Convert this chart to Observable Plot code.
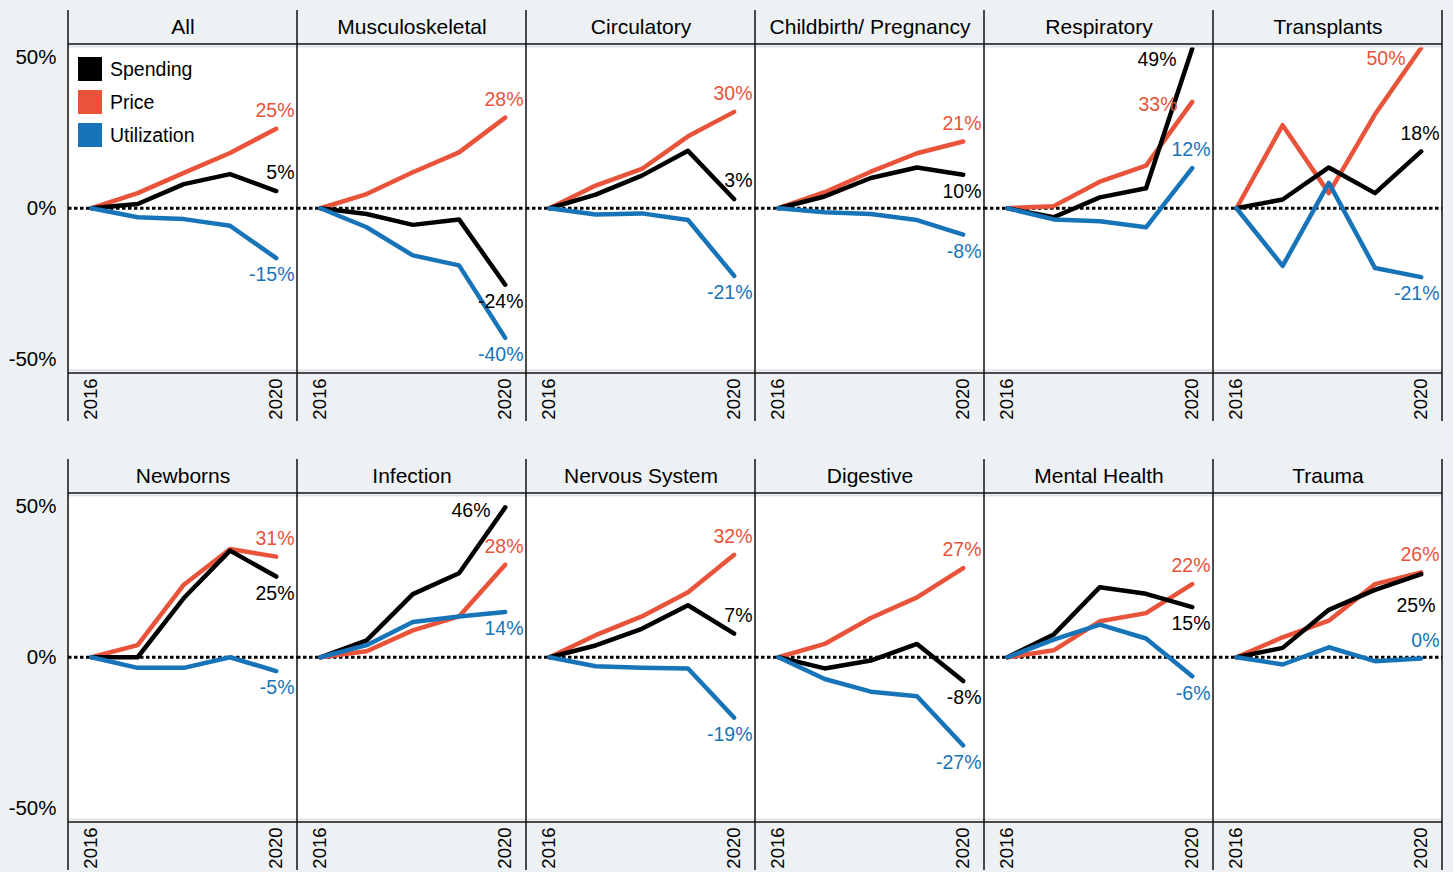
<!DOCTYPE html>
<html>
<head>
<meta charset="utf-8">
<script src="https://cdn.jsdelivr.net/npm/d3@7"></script>
<script src="https://cdn.jsdelivr.net/npm/@observablehq/plot@0.6"></script>
<style>
  body { margin: 0; background: #eef1f4; }
  #chart { position: relative; width: 1453px; height: 872px; background: #eef1f4;
           font-family: "Liberation Sans", Arial, sans-serif; }
  #chart svg { display: block; }
  .legend { position: absolute; left: 78px; top: 57px; font-size: 19.5px; color: #000; }
  .legend .item { display: flex; align-items: center; height: 24px; margin-bottom: 9px; }
  .legend .sw { width: 24px; height: 24px; margin-right: 8px; }
</style>
</head>
<body>
<div id="chart"></div>
<script>
// ---- data ----
const categories = ["All", "Musculoskeletal", "Circulatory", "Childbirth/ Pregnancy", "Respiratory", "Transplants",
                    "Newborns", "Infection", "Nervous System", "Digestive", "Mental Health", "Trauma"];
const years = [2016, 2017, 2018, 2019, 2020];
const seriesNames = ["Spending", "Price", "Utilization"];
const seriesColors = ["#000000", "#e8533a", "#1874b8"];

const spending = [
  [0, 1.4, 8.0, 11.3, 5.7],
  [0, -1.9, -5.5, -3.7, -25.3],
  [0, 4.5, 10.8, 19.0, 3.0],
  [0, 3.9, 10.0, 13.5, 11.1],
  [0, -3.0, 3.6, 6.6, 52.8],
  [0, 2.9, 13.5, 5.0, 18.8],
  [0, 0, 19.6, 35.3, 26.7],
  [0, 5.6, 20.9, 27.8, 49.6],
  [0, 3.9, 9.4, 17.2, 7.8],
  [0, -3.7, -1.1, 4.4, -7.9],
  [0, 7.5, 23.2, 21.0, 16.6],
  [0, 3.1, 15.7, 22.3, 27.5]
];
const price = [
  [0, 5.0, 11.7, 18.3, 26.3],
  [0, 4.7, 11.9, 18.5, 30.0],
  [0, 7.5, 13.0, 23.8, 31.9],
  [0, 5.3, 12.1, 18.2, 22.1],
  [0, 0.7, 8.8, 14.1, 35.2],
  [0, 27.5, 5.0, 31.1, 53.1],
  [0, 4.0, 24.0, 35.8, 33.3],
  [0, 2.0, 8.9, 13.5, 30.6],
  [0, 7.3, 13.5, 21.5, 33.9],
  [0, 4.4, 13.0, 19.8, 29.5],
  [0, 2.3, 11.9, 14.6, 24.2],
  [0, 6.6, 12.1, 24.2, 28.1]
];
const utilization = [
  [0, -3.0, -3.6, -5.8, -16.5],
  [0, -6.3, -15.6, -18.9, -42.9],
  [0, -2.1, -1.7, -3.9, -22.4],
  [0, -1.3, -1.9, -3.9, -8.7],
  [0, -3.7, -4.3, -6.3, 13.3],
  [0, -19.1, 8.4, -19.8, -22.8],
  [0, -3.5, -3.5, 0, -4.6],
  [0, 4.0, 11.7, 13.5, 15.0],
  [0, -3.0, -3.5, -3.7, -20.0],
  [0, -7.2, -11.4, -12.9, -29.2],
  [0, 5.8, 10.8, 6.2, -6.3],
  [0, -2.4, 3.3, -1.3, -0.4]
];
// end-of-line labels as printed
const spendingLabels = ["5%", "-24%", "3%", "10%", "49%", "18%", "25%", "46%", "7%", "-8%", "15%", "25%"];
const priceLabels = ["25%", "28%", "30%", "21%", "33%", "50%", "31%", "28%", "32%", "27%", "22%", "26%"];
const utilizationLabels = ["-15%", "-40%", "-21%", "-8%", "12%", "-21%", "-5%", "14%", "-19%", "-27%", "-6%", "0%"];
// where each end label sits relative to its line end
const spendingPlace = ["above", "below", "above", "below", "belowLeft", "above", "below", "left", "above", "below", "below", "farBelow"];
const pricePlace = ["above", "above", "above", "above", "left", "belowLeft", "above", "above", "above", "above", "above", "above"];
const utilizationPlace = ["below", "below", "below", "below", "above", "below", "below", "below", "below", "below", "below", "above"];
const yTicks = [-50, 0, 50];
const xTicks = [2016, 2020];

// ---- build tables ----
const seriesTable = [
  ["Price", price, priceLabels, pricePlace],
  ["Spending", spending, spendingLabels, spendingPlace],
  ["Utilization", utilization, utilizationLabels, utilizationPlace]
];
const cells = categories.map((name, i) => ({name, row: Math.floor(i / 6), col: i % 6}));
const points = [];
const ends = [];
cells.forEach((c, i) => {
  for (const [s, arr, labs, places] of seriesTable) {
    years.forEach((yr, j) => points.push({...c, series: s, year: yr, value: arr[i][j]}));
    ends.push({...c, series: s, value: arr[i][years.length - 1], text: labs[i], place: places[i]});
  }
});

const placeOffsets = {
  above: {dx: -3, dy: -18},
  below: {dx: -3, dy: 17},
  left: {dx: -36, dy: 3},
  belowLeft: {dx: -37, dy: 11},
  farBelow: {dx: -7, dy: 32}
};
const labelMarks = Object.entries(placeOffsets).map(([k, o]) =>
  Plot.text(ends.filter(d => d.place === k), {
    fx: "col", fy: "row", y: "value", text: "text", fill: "series",
    frameAnchor: "right", textAnchor: "end", dx: o.dx, dy: o.dy, fontSize: 19.5
  })
);

const plot = Plot.plot({
  width: 1453,
  height: 872,
  marginLeft: 67,
  marginRight: 10,
  marginTop: 44,
  marginBottom: 50,
  style: {background: "transparent", fontFamily: "'Liberation Sans', Arial, sans-serif", overflow: "visible", color: "#000"},
  fx: {domain: [0, 1, 2, 3, 4, 5], padding: 0, axis: null},
  fy: {domain: [0, 1], paddingInner: 0.268, paddingOuter: 0, axis: null},
  x: {domain: [2015.503, 2020.461]},
  y: {domain: [-54.7, 54.2]},
  color: {domain: seriesNames, range: seriesColors},
  marks: [
    Plot.frame({fill: "white"}),
    Plot.ruleY([0], {stroke: "black", strokeWidth: 3, strokeDasharray: "3.5,2.5"}),
    Plot.line(points, {
      fx: "col", fy: "row", x: "year", y: "value", z: "series", stroke: "series",
      strokeWidth: 4.5, strokeLinejoin: "round", strokeLinecap: "round"
    }),
    ...labelMarks,
    Plot.text(cells, {fx: "col", fy: "row", text: "name", frameAnchor: "top", lineAnchor: "middle",
                      dy: -17.5, fontSize: 21, fill: "black"}),
    Plot.axisX({ticks: xTicks, tickFormat: d => String(d), tickRotate: -90, tickSize: 0, tickPadding: 5,
                fontSize: 18.5, color: "black", label: null, facetAnchor: null}),
    Plot.axisY({ticks: yTicks, tickFormat: d => d + "%", tickSize: 0, tickPadding: 12,
                fontSize: 20.5, color: "black", label: null, facetAnchor: "left"})
  ]
});

// ---- panel borders drawn from the facet scales ----
const fxS = plot.scale("fx"), fyS = plot.scale("fy");
const svg = d3.select(plot);
const g = svg.append("g").attr("class", "borders");
const left = fxS.apply(0), right = fxS.apply(5) + fxS.bandwidth;
for (const r of [0, 1]) {
  const top = fyS.apply(r), bottom = top + fyS.bandwidth;
  for (const y of [top + 2.5, bottom - 2.5]) {
    g.append("line").attr("x1", left).attr("x2", right).attr("y1", y).attr("y2", y)
      .attr("stroke", "#dde2e7").attr("stroke-width", 2);
  }
  for (const y of [top, bottom]) {
    g.append("line").attr("x1", left).attr("x2", right).attr("y1", y).attr("y2", y)
      .attr("stroke", "#111").attr("stroke-width", 1.5);
  }
  const xs = fxS.domain.map(c => fxS.apply(c)).concat([right]);
  for (const x of xs) {
    g.append("line").attr("x1", x).attr("x2", x).attr("y1", top - 34).attr("y2", bottom + 48)
      .attr("stroke", "#111").attr("stroke-width", 1.5);
  }
}

const chart = document.getElementById("chart");
chart.appendChild(plot);

// ---- legend (inside first panel) ----
const color = plot.scale("color");
const legend = document.createElement("div");
legend.className = "legend";
seriesNames.forEach(s => {
  const item = document.createElement("div");
  item.className = "item";
  const sw = document.createElement("div");
  sw.className = "sw";
  sw.style.background = color.apply(s);
  const t = document.createElement("span");
  t.textContent = s;
  item.appendChild(sw); item.appendChild(t);
  legend.appendChild(item);
});
chart.appendChild(legend);
</script>
</body>
</html>
